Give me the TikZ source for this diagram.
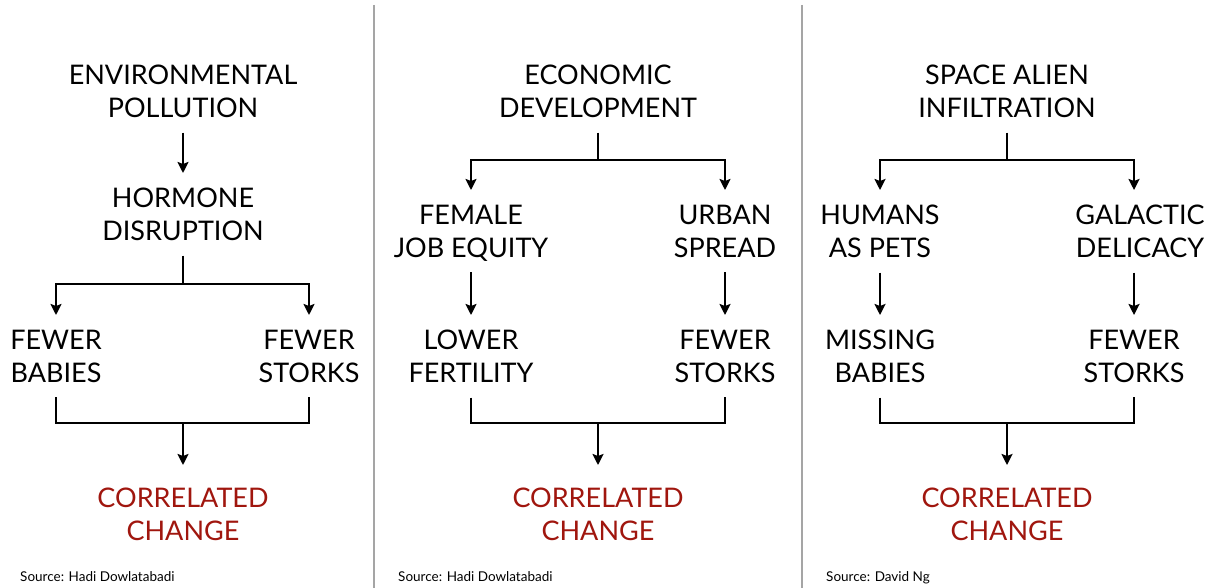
\documentclass[tikz,border=0pt]{standalone}
\usepackage{fontspec}
\setmainfont{Lato}
\usetikzlibrary{arrows.meta}
\definecolor{corrred}{RGB}{160,22,14}
\definecolor{sepgray}{RGB}{165,165,165}
\begin{document}
\begin{tikzpicture}[x=1pt,y=-1pt,
  lbl/.style={align=center, anchor=north, inner xsep=0pt, inner ysep=15pt,
    outer sep=0pt, text depth=0pt, font=\fontsize{27}{33}\selectfont},
  res/.style={lbl, inner ysep=23pt, text=corrred},
  wire/.style={line width=2.2pt, black},
  arr/.style={wire, -{Stealth[length=11pt,width=11pt,inset=2pt]}},
  src/.style={anchor=base west, inner sep=0pt, font=\fontsize{13.5}{16}\selectfont},
  divider/.style={line width=1.5pt, sepgray}]
\useasboundingbox (0,0) rectangle (1220,588);
\fill[white] (0,0) rectangle (1220,588);

% panel dividers
\draw[divider] (374,5) -- (374,588);
\draw[divider] (802,5) -- (802,588);

% ---- panel 1 ----
\node[lbl] (p1top) at (183,50) {ENVIRONMENTAL\\POLLUTION};
\node[lbl] (p1mid) at (183,173) {HORMONE\\DISRUPTION};
\node[lbl] (p1l) at (56,315) {FEWER\\BABIES};
\node[lbl] (p1r) at (309,315) {FEWER\\STORKS};
\node[res] (p1res) at (183,465) {CORRELATED\\CHANGE};
\coordinate (p1split) at (183,284);
\coordinate (p1merge) at (183,423);
\draw[arr] (p1top) -- (p1mid);
\draw[wire] (p1mid.south) -- (p1split);
\draw[arr] (p1split) -| (p1l.north);
\draw[arr] (p1split) -| (p1r.north);
\draw[wire] (p1l.south) |- (p1merge);
\draw[wire] (p1r.south) |- (p1merge);
\draw[arr] (p1merge) -- (p1res.north);
\node[src] (p1src) at (20,581) {Source: Hadi Dowlatabadi};

% ---- panel 2 ----
\node[lbl] (p2top) at (598,50) {ECONOMIC\\DEVELOPMENT};
\node[lbl] (p2l) at (471,190) {FEMALE\\JOB EQUITY};
\node[lbl] (p2r) at (725,190) {URBAN\\SPREAD};
\node[lbl] (p2ll) at (471,315) {LOWER\\FERTILITY};
\node[lbl] (p2rr) at (725,315) {FEWER\\STORKS};
\node[res] (p2res) at (598,465) {CORRELATED\\CHANGE};
\coordinate (p2split) at (598,160);
\coordinate (p2merge) at (598,423);
\draw[wire] (p2top.south) -- (p2split);
\draw[arr] (p2split) -| (p2l.north);
\draw[arr] (p2split) -| (p2r.north);
\draw[arr] (p2l) -- (p2ll);
\draw[arr] (p2r) -- (p2rr);
\draw[wire] (p2ll.south) |- (p2merge);
\draw[wire] (p2rr.south) |- (p2merge);
\draw[arr] (p2merge) -- (p2res.north);
\node[src] (p2src) at (398,581) {Source: Hadi Dowlatabadi};

% ---- panel 3 ----
\node[lbl] (p3top) at (1007,50) {SPACE ALIEN\\INFILTRATION};
\node[lbl] (p3l) at (880,190) {HUMANS\\AS PETS};
\node[lbl] (p3r) at (1140,190) {GALACTIC\\DELICACY};
\node[lbl] (p3ll) at (880,315) {MISSING\\BABIES};
\node[lbl] (p3rr) at (1134,315) {FEWER\\STORKS};
\node[res] (p3res) at (1007,465) {CORRELATED\\CHANGE};
\coordinate (p3split) at (1007,160);
\coordinate (p3merge) at (1007,423);
\draw[wire] (p3top.south) -- (p3split);
\draw[arr] (p3split) -| (p3l.north);
\draw[arr] (p3split) -| (p3rr.north |- p3r.north);
\draw[arr] (p3l) -- (p3ll);
\draw[arr] (p3rr.north |- p3r.south) -- (p3rr.north);
\draw[wire] (p3ll.south) |- (p3merge);
\draw[wire] (p3rr.south) |- (p3merge);
\draw[arr] (p3merge) -- (p3res.north);
\node[src] (p3src) at (826,581) {Source: David Ng};
\end{tikzpicture}
\end{document}
